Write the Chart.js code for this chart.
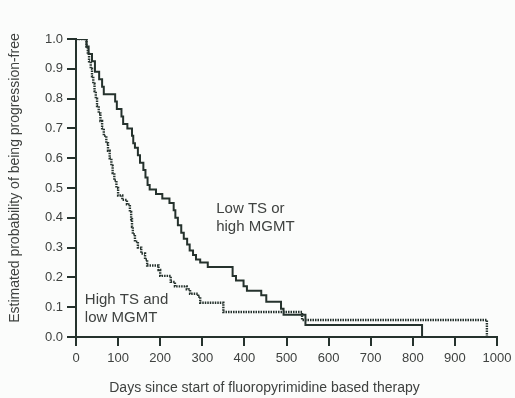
<!DOCTYPE html>
<html>
<head>
<meta charset="utf-8">
<script src="https://cdn.jsdelivr.net/npm/chart.js@4.4.1/dist/chart.umd.min.js"></script>
<style>
  html, body { margin: 0; padding: 0; background: #fbfcfb; }
  #wrap { width: 515px; height: 398px; }
</style>
</head>
<body>
<div id="wrap"><canvas id="c" width="515" height="398"></canvas></div>
<script>
// Low TS or high MGMT (solid)
const solidDays = [0, 25, 30, 38, 45, 55, 62, 66, 93, 97, 108, 112, 122, 133, 136, 140, 147, 152, 160, 165, 170, 175, 190, 205, 222, 232, 236, 242, 250, 256, 264, 270, 278, 285, 295, 313, 372, 380, 398, 406, 440, 452, 487, 493, 545, 822];
const solidSurv = [1.0, 0.975, 0.95, 0.925, 0.89, 0.865, 0.84, 0.815, 0.79, 0.765, 0.74, 0.715, 0.70, 0.675, 0.65, 0.635, 0.61, 0.585, 0.56, 0.535, 0.51, 0.495, 0.48, 0.465, 0.45, 0.425, 0.40, 0.375, 0.35, 0.33, 0.31, 0.29, 0.275, 0.26, 0.25, 0.235, 0.205, 0.19, 0.17, 0.155, 0.14, 0.118, 0.095, 0.075, 0.04, 0.0];
// High TS and low MGMT (dotted)
const dottedDays = [0, 25, 28, 31, 35, 38, 41, 44, 47, 50, 54, 58, 62, 66, 72, 76, 80, 84, 87, 91, 96, 100, 110, 121, 128, 131, 133, 135, 140, 147, 155, 164, 169, 196, 200, 225, 235, 263, 271, 290, 295, 350, 537, 976];
const dottedSurv = [1.0, 0.975, 0.95, 0.925, 0.90, 0.875, 0.85, 0.825, 0.80, 0.775, 0.75, 0.725, 0.70, 0.675, 0.65, 0.625, 0.60, 0.575, 0.55, 0.525, 0.50, 0.475, 0.46, 0.445, 0.42, 0.395, 0.37, 0.345, 0.32, 0.30, 0.28, 0.26, 0.24, 0.225, 0.205, 0.185, 0.17, 0.16, 0.145, 0.135, 0.115, 0.084, 0.057, 0.0];

const xTicks = [0, 100, 200, 300, 400, 500, 600, 700, 800, 900, 1000];
const yTicks = [0.0, 0.1, 0.2, 0.3, 0.4, 0.5, 0.6, 0.7, 0.8, 0.9, 1.0];
const xTitle = 'Days since start of fluoropyrimidine based therapy';
const yTitle = 'Estimated probability of being progression-free';
const labels = [
  { lines: ['Low TS or', 'high MGMT'], day: 333, surv: 0.43 },
  { lines: ['High TS and', 'low MGMT'], day: 21, surv: 0.125 }
];

const ink = '#25322d';
const textCol = '#3f4240';
const fontFam = '"Liberation Sans", Arial, Helvetica, sans-serif';

function pts(xs, ys) { return xs.map((x, i) => ({ x: x, y: ys[i] })); }

const textPlugin = {
  id: 'curveLabels',
  afterDatasetsDraw(chart) {
    const ctx = chart.ctx;
    const xs = chart.scales.x, ys = chart.scales.y;
    const ca = chart.chartArea;
    ctx.save();
    ctx.fillStyle = textCol;
    ctx.font = '15px ' + fontFam;
    ctx.textAlign = 'left';
    ctx.textBaseline = 'middle';
    labels.forEach(l => {
      const px = xs.getPixelForValue(l.day);
      const py = ys.getPixelForValue(l.surv);
      l.lines.forEach((t, i) => ctx.fillText(t, px, py + i * 18));
    });
    // axis titles
    ctx.font = '14px ' + fontFam;
    ctx.textAlign = 'center';
    ctx.fillText(xTitle, (ca.left + ca.right) / 2 - 22, ca.bottom + 51);
    ctx.translate(15, (ca.top + ca.bottom) / 2 - 10);
    ctx.rotate(-Math.PI / 2);
    ctx.fillText(yTitle, 0, 0);
    ctx.restore();
  }
};

new Chart(document.getElementById('c'), {
  type: 'line',
  data: {
    datasets: [
      { label: 'Low TS or high MGMT', data: pts(solidDays, solidSurv), stepped: 'before',
        borderColor: ink, borderWidth: 2, pointRadius: 0, fill: false },
      { label: 'High TS and low MGMT', data: pts(dottedDays, dottedSurv), stepped: 'before',
        borderColor: ink, borderWidth: 2.4, borderDash: [1.5, 1], pointRadius: 0, fill: false }
    ]
  },
  options: {
    responsive: false,
    animation: false,
    layout: { padding: { left: 0, right: 18, top: 39, bottom: 0 } },
    plugins: { legend: { display: false }, tooltip: { enabled: false } },
    scales: {
      x: {
        type: 'linear', min: 0, max: 1000,
        afterBuildTicks: s => { s.ticks = xTicks.map(v => ({ value: v })); },
        afterFit: s => { s.height = 61; s.paddingLeft = 0; s.paddingRight = 0; },
        ticks: { color: textCol, font: { family: fontFam, size: 13 }, padding: 5, maxRotation: 0, autoSkip: false,
                 callback: v => String(v) },
        grid: { drawOnChartArea: false, drawTicks: true, tickLength: 9, color: ink, lineWidth: 2 },
        border: { color: ink, width: 2 },
        title: { display: false }
      },
      y: {
        type: 'linear', min: 0, max: 1,
        afterBuildTicks: s => { s.ticks = yTicks.map(v => ({ value: v })); },
        afterFit: s => { s.width = 76; s.paddingTop = 0; s.paddingBottom = 0; },
        ticks: { color: textCol, font: { family: fontFam, size: 13 }, padding: 4, autoSkip: false,
                 callback: v => v.toFixed(1) },
        grid: { drawOnChartArea: false, drawTicks: true, tickLength: 9, color: ink, lineWidth: 2 },
        border: { color: ink, width: 2 },
        title: { display: false }
      }
    }
  },
  plugins: [textPlugin]
});
</script>
</body>
</html>
